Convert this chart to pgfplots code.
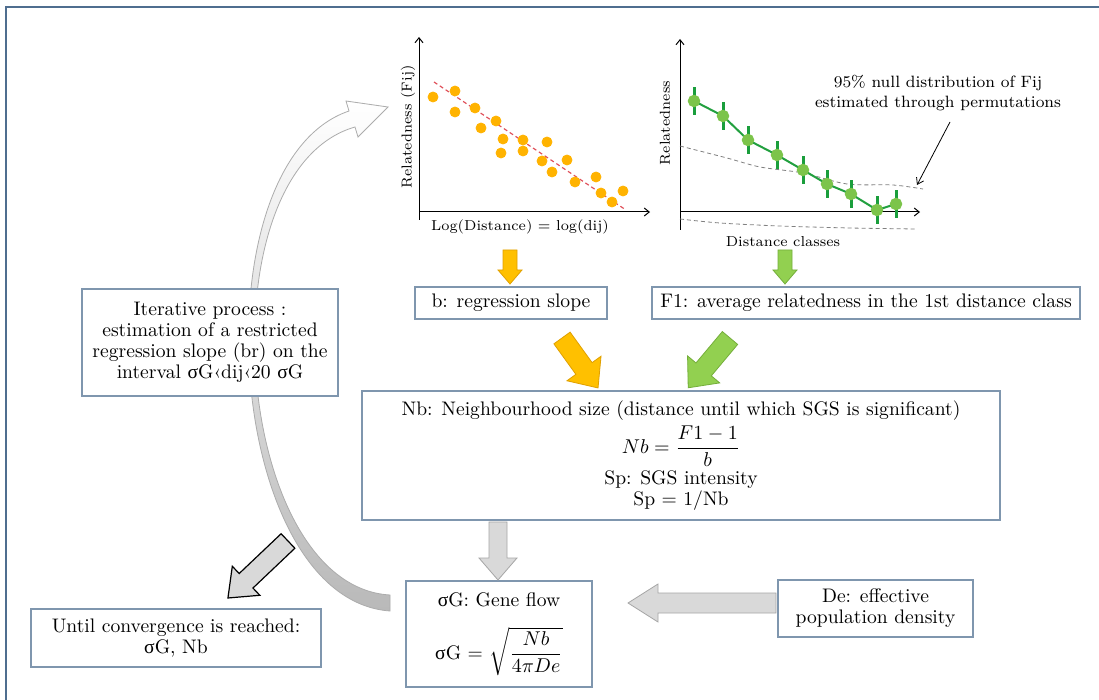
\documentclass[border=0pt]{standalone}
\usepackage{amsmath}
\usepackage{pgfplots}
\pgfplotsset{compat=1.18}
\usepackage{fontspec}
\usetikzlibrary{arrows.meta}
\newfontfamily\grk{Liberation Serif}
\newcommand{\sg}{{\grk σ}G}
\definecolor{boxc}{HTML}{7F96AE}
\definecolor{framec}{HTML}{4F6E8F}
\definecolor{orfill}{HTML}{FFC000}
\definecolor{ordraw}{HTML}{E0A000}
\definecolor{grfill}{HTML}{92D050}
\definecolor{grdraw}{HTML}{74AE3A}
\definecolor{gyfill}{HTML}{D9D9D9}
\definecolor{gydraw}{HTML}{A6A6A6}
\definecolor{dotc}{HTML}{FFB300}
\definecolor{regc}{HTML}{E0505A}
\definecolor{gline}{HTML}{22A03F}
\definecolor{gmark}{HTML}{7CC44A}
\definecolor{gbar}{HTML}{1A9E3C}
% block arrow: x0 y0 length angle shafthalf headhalf headlength style
\newcommand{\barrow}[8]{%
  \begin{scope}[shift={(#1,#2)},rotate=#4]
    \draw[#8] (0,-#5) -- ({#3-#7},-#5) -- ({#3-#7},-#6) -- (#3,0) -- ({#3-#7},#6) -- ({#3-#7},#5) -- (0,#5) -- cycle;
  \end{scope}}
\pgfplotstableread{
x y e
694 111 14
723 96 14
748 72 14
777 57 14
803 42 14
827 28 14
851 18 14
877 2 14
896 8 14
}\corr
\begin{document}
\begin{tikzpicture}[x=0.5pt,y=-0.5pt,
  box/.style={draw=boxc, line width=0.6pt, fill=white, align=center, inner sep=1pt,
    font=\fontsize{9.8}{10.5}\selectfont},
  lab/.style={font=\fontsize{7.2}{8}\selectfont}]
\path[use as bounding box, fill=white] (0,0) rectangle (1099,700);
% frame
\draw[framec, line width=1.1pt] (6,700) -- (6,7) -- (1099,7);
% curved iterative arrow
\path[top color=white, bottom color=gray!55, draw=gray!65, line width=0.4pt]
  (390,611) .. controls (224,599) and (196,163) .. (349,111)
  -- (346,101) -- (388,107) -- (358,137) -- (355,127)
  .. controls (202,171) and (232,586) .. (390,595) -- cycle;
% boxes
\node[box, minimum width=128pt, minimum height=53.5pt] at (210,342.5)
  {Iterative process :\\ estimation of a restricted\\ regression slope (br) on the\\ interval \sg‹dij‹20 \sg};
\node[box, minimum width=96pt, minimum height=16pt] at (511,303) {b: regression slope};
\node[box, minimum width=214pt, minimum height=16pt] at (866,303)
  {F1: average relatedness in the 1st distance class};
\node[box, minimum width=319pt, minimum height=64.5pt] at (681,455.5)
  {Nb: Neighbourhood size (distance until which SGS is significant)\\[2pt]
   $\displaystyle Nb=\frac{F1-1}{b}$\\[1pt] Sp: SGS intensity\\ Sp = 1/Nb};
\node[box, minimum width=93pt, minimum height=53pt] at (499,634)
  {\sg: Gene flow\\[9pt] \sg{} = $\sqrt{\dfrac{Nb}{4\pi De}}$};
\node[box, minimum width=97.5pt, minimum height=28.5pt] at (875.5,608.5)
  {De: effective\\ population density};
\node[box, minimum width=145pt, minimum height=29pt] at (176,638)
  {Until convergence is reached:\\ \sg, Nb};
% block arrows
\barrow{510}{250}{34}{-90}{7}{12}{14}{fill=orfill, draw=ordraw, line width=0.4pt}
\barrow{785}{250}{34}{-90}{7}{12}{14}{fill=grfill, draw=grdraw, line width=0.4pt}
\barrow{562}{338}{61.6}{-54.2}{10}{21}{24}{fill=orfill, draw=ordraw, line width=0.4pt}
\barrow{730}{338}{65}{-130}{10}{21}{24}{fill=grfill, draw=grdraw, line width=0.4pt}
\barrow{498}{522}{58}{-90}{9}{19}{22}{fill=gyfill, draw=gydraw, line width=0.4pt}
\barrow{776}{603}{148}{180}{10}{19}{30}{fill=gyfill, draw=gydraw, line width=0.4pt}
\barrow{288}{541}{82.8}{-136.5}{10}{20}{25}{fill=gyfill, draw=black, line width=0.6pt}
% plot 1: regression  (pixel (419,220) -> (209.5pt,-110pt))
\begin{axis}[at={(209.5pt,-110pt)}, anchor=south west, x=0.5pt, y=0.5pt,
  xmin=419, xmax=650, ymin=-8, ymax=175,
  axis x line=middle, axis y line=left,
  x axis line style={-{Straight Barb[length=2.5pt,width=4pt]}, line width=0.5pt},
  y axis line style={-{Straight Barb[length=2.5pt,width=4pt]}, line width=0.5pt},
  xtick=\empty, ytick=\empty, clip=false]
\addplot[regc, line width=0.6pt, dash pattern=on 2pt off 1.5pt] coordinates {(434,130) (626,2)};
\addplot[only marks, color=dotc, mark=*, mark size=2.5pt, mark options={fill=dotc, draw=dotc}] coordinates {
(433,115) (455,121) (455,100) (475,104) (481,84) (496,91) (503,73) (501,59)
(523,72) (523,61) (547,70) (542,51) (552,40) (567,52) (575,30) (596,35)
(601,19) (612,10) (623,21)};
\node[lab, rotate=90] at (axis cs:408,85) {Relatedness (Fij)};
\node[lab] at (axis cs:520,-15) {Log(Distance) = log(dij)};
\end{axis}
% plot 2: correlogram (pixel (680,230) -> (340pt,-115pt))
\begin{axis}[at={(340pt,-115pt)}, anchor=south west, x=0.5pt, y=0.5pt,
  xmin=680, xmax=920, ymin=-18, ymax=173,
  axis x line=middle, axis y line=left,
  x axis line style={-{Straight Barb[length=2.5pt,width=4pt]}, line width=0.5pt},
  y axis line style={-{Straight Barb[length=2.5pt,width=4pt]}, line width=0.5pt},
  xtick=\empty, ytick=\empty, clip=false]
\addplot[gray, line width=0.4pt, dash pattern=on 2pt off 1.5pt, smooth] coordinates {
(680,66) (727,54) (760,45) (803,39) (847,28) (893,27) (923,23)};
\addplot[gray, line width=0.4pt, dash pattern=on 2pt off 1.5pt, smooth] coordinates {
(680,-7) (720,-11) (780,-14) (850,-16) (917,-17)};
\addplot[gline, line width=1pt, mark=*, mark size=2.6pt, mark options={fill=gmark, draw=gmark}]
  table[x=x, y=y] {\corr};
\addplot[draw=none, mark=none, forget plot,
  error bars/.cd, y dir=both, y explicit, error mark=none,
  error bar style={gbar, line width=1.5pt}]
  table[x=x, y=y, y error=e] {\corr};
\node[lab, rotate=90] at (axis cs:665,89) {Relatedness};
\node[lab] at (axis cs:783,-30) {Distance classes};
\node[font=\fontsize{8.2}{10}\selectfont, align=center] at (axis cs:938,119)
  {95\% null distribution of Fij\\ estimated through permutations};
\draw[line width=0.4pt, -{Straight Barb[length=3pt,width=4pt]}] (axis cs:950,90) -- (axis cs:917,27);
\end{axis}
\end{tikzpicture}
\end{document}
